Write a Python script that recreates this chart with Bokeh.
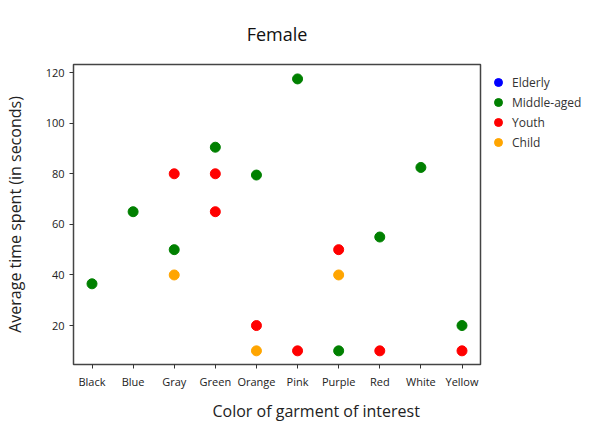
import math
from bokeh.plotting import figure
from bokeh.layouts import row
from bokeh.models import Range1d, FixedTicker, Legend, LegendItem, Title
from bokeh.embed import file_html
from bokeh.resources import INLINE

colors = ["Black", "Blue", "Gray", "Green", "Orange", "Pink", "Purple", "Red", "White", "Yellow"]

groups = ["Elderly", "Middle-aged", "Youth", "Child"]
group_colors = ["blue", "green", "red", "orange"]

elderly_x = []
elderly_y = []
middle_x = ["Black", "Blue", "Gray", "Green", "Orange", "Pink", "Purple", "Red", "White", "Yellow"]
middle_y = [36.5, 65, 50, 90.5, 79.5, 117.5, 10, 55, 82.5, 20]
youth_x = ["Gray", "Green", "Green", "Orange", "Pink", "Purple", "Red", "Yellow"]
youth_y = [80, 80, 65, 20, 10, 50, 10, 10]
child_x = ["Gray", "Orange", "Purple"]
child_y = [40, 10, 40]

y_ticks = [20, 40, 60, 80, 100, 120]

FONT = "Open Sans"
TXT = "#222222"

p = figure(width=484, height=428, output_backend="svg", toolbar_location=None,
           x_range=Range1d(-0.45, 9.45), y_range=Range1d(4.6, 123.2),
           min_border_left=71, min_border_right=4, min_border_top=64, min_border_bottom=64)

p.title.text = "Female"
p.title.align = "center"
p.title.text_font = FONT
p.title.text_font_size = "18px"
p.title.text_font_style = "normal"
p.title.text_color = "#111111"
p.title.standoff = 37

series = [(elderly_x, elderly_y), (middle_x, middle_y), (youth_x, youth_y), (child_x, child_y)]
for (xs, ys), col in zip(series, group_colors):
    xi = [colors.index(c) for c in xs]
    p.scatter(x=xi, y=list(ys), size=10, fill_color=col, line_color=col)

p.xaxis.ticker = FixedTicker(ticks=list(range(len(colors))))
p.xaxis.major_label_overrides = {i: c for i, c in enumerate(colors)}
p.yaxis.ticker = FixedTicker(ticks=y_ticks)

for ax in [p.xaxis[0], p.yaxis[0]]:
    ax.major_label_text_font = FONT
    ax.major_label_text_font_size = "11px"
    ax.major_label_text_color = TXT
    ax.axis_line_color = None
    ax.major_tick_line_color = "#333333"
    ax.major_tick_out = 4
    ax.major_tick_in = 0
    ax.minor_tick_line_color = None
    ax.axis_label_text_font = FONT
    ax.axis_label_text_font_style = "normal"
    ax.axis_label_text_color = TXT

p.yaxis.axis_label = "Average time spent (in seconds)"
p.yaxis.axis_label_text_font_size = "16px"
p.yaxis.axis_label_standoff = 17

xlab = Title(text="Color of garment of interest", align="left", offset=139,
             text_font=FONT, text_font_size="16px", text_font_style="normal",
             text_color=TXT, standoff=12)
p.add_layout(xlab, "below")

p.xgrid.grid_line_color = None
p.ygrid.grid_line_color = None
p.outline_line_color = "#444444"
p.outline_line_width = 1.5

# legend panel to the right of the plot (its frame is aligned with the plot frame)
q = figure(width=100, height=428, output_backend="svg", toolbar_location=None,
           x_axis_type=None, y_axis_type=None, x_range=Range1d(0, 1), y_range=Range1d(0, 1),
           min_border_left=0, min_border_right=0, min_border_top=0, min_border_bottom=0)
q.outline_line_color = None
q.xgrid.grid_line_color = None
q.ygrid.grid_line_color = None
items = []
for name, col in zip(groups, group_colors):
    r = q.scatter(x=[math.nan], y=[math.nan], size=10, fill_color=col, line_color=col)
    items.append(LegendItem(label=name, renderers=[r]))
legend = Legend(items=items, location=(2, 212), border_line_color=None,
                background_fill_alpha=0, label_text_font=FONT, label_text_font_size="12px",
                label_text_color="#333333", glyph_width=24, glyph_height=20,
                label_height=20, spacing=0, padding=0, margin=0, label_standoff=2)
q.add_layout(legend)

layout = row(p, q, spacing=0)

open("out.html", "w").write(file_html(layout, INLINE))
